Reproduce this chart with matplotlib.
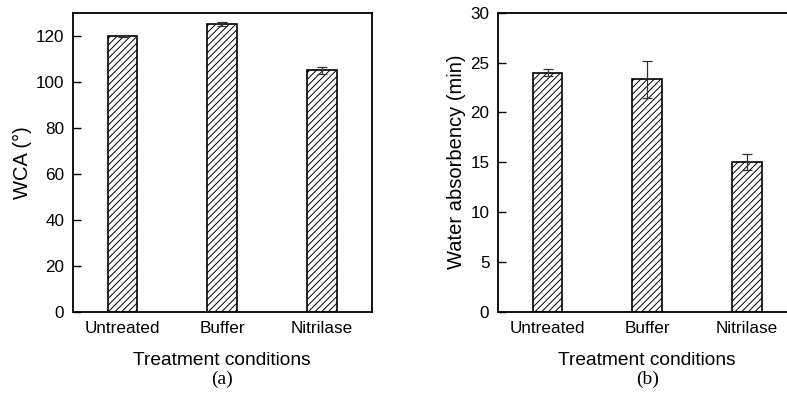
import matplotlib
matplotlib.use("Agg")
import matplotlib.pyplot as plt

categories = ["Untreated", "Buffer", "Nitrilase"]
wca = [120, 125, 105]
wca_err = [0.5, 0.9, 1.6]
absorb = [24.0, 23.3, 15.0]
absorb_err = [0.35, 1.9, 0.8]

plt.rcParams['font.family'] = ['Liberation Sans', 'DejaVu Sans']
plt.rcParams['hatch.linewidth'] = 0.7

fig = plt.figure(figsize=(7.87, 3.94), dpi=100)
W, H = 787, 394

def make_ax(left_px):
    return fig.add_axes([left_px / W, 1 - 311.7 / H, 299 / W, (311.7 - 12.7) / H])

axes = [make_ax(72.7), make_ax(497.7)]
data = [(wca, wca_err, (0, 130), [0, 20, 40, 60, 80, 100, 120], "WCA (°)", "(a)"),
        (absorb, absorb_err, (0, 30), [0, 5, 10, 15, 20, 25, 30], "Water absorbency (min)", "(b)")]

x = list(range(len(categories)))
for ax, (vals, errs, ylim, yticks, ylabel, tag) in zip(axes, data):
    ax.bar(x, vals, width=0.3, color='white', edgecolor='black', linewidth=1.2,
           hatch='/////', zorder=2)
    ax.errorbar(x, vals, yerr=errs, fmt='none', ecolor='#333333', elinewidth=0.9,
                capsize=3.5, capthick=0.9, zorder=3)
    ax.set_xlim(-0.5, 2.5)
    ax.set_ylim(*ylim)
    ax.set_yticks(yticks)
    ax.set_xticks(x)
    ax.set_xticklabels(categories)
    ax.tick_params(axis='y', direction='in', length=6, width=1, labelsize=12.3, pad=6)
    ax.tick_params(axis='x', length=0, labelsize=12.3, pad=7)
    for s in ax.spines.values():
        s.set_linewidth(1.3)
    ax.set_ylabel(ylabel, fontsize=14.5, labelpad=3)
    ax.set_xlabel("Treatment conditions", fontsize=13.8, labelpad=11)
    ax.text(0.5, -0.196, tag, transform=ax.transAxes, ha='center', va='top',
            fontsize=14, family=['Liberation Serif', 'DejaVu Serif'])

fig.savefig("out.png", dpi=100)
